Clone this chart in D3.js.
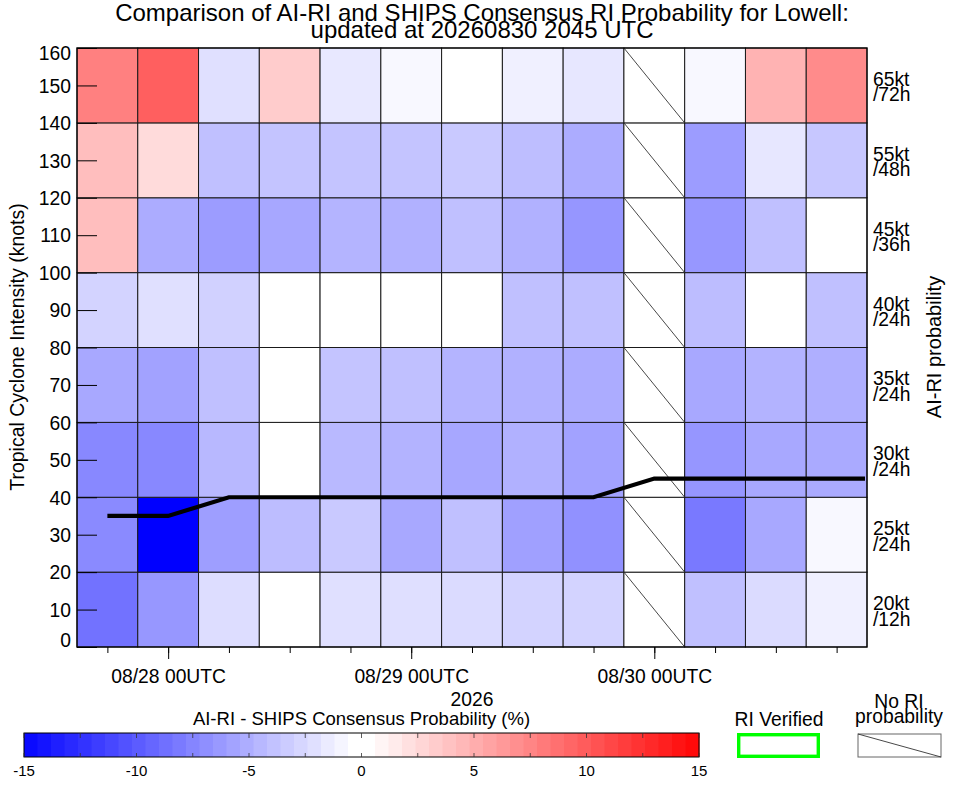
<!DOCTYPE html>
<html>
<head>
<meta charset="utf-8">
<script src="https://cdn.jsdelivr.net/npm/d3@7"></script>
<style>
  html, body { margin: 0; padding: 0; background: #fff; }
  svg { display: block; }
  text { font-family: "Liberation Sans", Arial, Helvetica, sans-serif; fill: #000; }
</style>
</head>
<body>
<svg id="chart" width="963" height="785"></svg>
<script>
// ---------------- DATA ----------------
const titleLines = ["Comparison of AI-RI and SHIPS Consensus RI Probability for Lowell:",
                    "updated at 20260830 2045 UTC"];
// 6-hourly forecast columns (UTC)
const columnTimes = ["2026-08-27T18:00Z","2026-08-28T00:00Z","2026-08-28T06:00Z","2026-08-28T12:00Z",
                     "2026-08-28T18:00Z","2026-08-29T00:00Z","2026-08-29T06:00Z","2026-08-29T12:00Z",
                     "2026-08-29T18:00Z","2026-08-30T00:00Z","2026-08-30T06:00Z","2026-08-30T12:00Z",
                     "2026-08-30T18:00Z"];
const majorTimes = ["2026-08-28T00:00Z","2026-08-29T00:00Z","2026-08-30T00:00Z"];

// RI thresholds (rows, bottom to top) and the intensity band each occupies
const riThresholds = [["20kt","/12h"],["25kt","/24h"],["30kt","/24h"],["35kt","/24h"],
                      ["40kt","/24h"],["45kt","/36h"],["55kt","/48h"],["65kt","/72h"]];
const bandLow  = [0, 20, 40, 60, 80, 100, 120, 140];
const bandHigh = [20, 40, 60, 80, 100, 120, 140, 160];

// AI-RI minus SHIPS consensus probability (%), null = no RI probability
const diff20kt12h = [-8.3, -6.1, -2.0,  0.0, -1.8, -1.9, -2.1, -2.6, -2.6, null, -3.7, -2.1, -0.9];
const diff25kt24h = [-6.9,-15.0, -5.7, -3.9, -3.2, -5.1, -3.7, -5.6, -6.5, null, -7.9, -5.1, -0.4];
const diff30kt24h = [-7.0, -7.0, -4.2,  0.0, -4.1, -4.5, -5.2, -4.6, -5.5, null, -6.2, -5.1, -5.0];
const diff35kt24h = [-5.1, -5.5, -3.7,  0.0, -3.5, -3.7, -4.4, -4.6, -4.9, null, -5.1, -4.5, -4.7];
const diff40kt24h = [-2.6, -1.8, -2.7,  0.0,  0.0,  0.0,  0.0, -3.7, -3.7, null, -3.9,  0.0, -3.7];
const diff45kt36h = [ 3.8, -4.9, -5.8, -5.2, -4.4, -4.6, -3.7, -4.6, -6.2, null, -6.1, -3.7,  0.0];
const diff55kt48h = [ 3.8,  2.1, -3.7, -3.5, -3.5, -3.5, -3.2, -3.8, -4.9, null, -5.8, -1.4, -3.3];
const diff65kt72h = [ 7.5,  9.4, -1.8,  3.0, -1.35,-0.4,  0.0, -0.9, -1.4, null, -0.4,  4.5,  6.8];
const diffRows = [diff20kt12h, diff25kt24h, diff30kt24h, diff35kt24h,
                  diff40kt24h, diff45kt36h, diff55kt48h, diff65kt72h];

// Forecast intensity (kt)
const intensityTimes = ["2026-08-27T18:00Z","2026-08-28T00:00Z","2026-08-28T06:00Z","2026-08-28T12:00Z",
                        "2026-08-28T18:00Z","2026-08-29T00:00Z","2026-08-29T06:00Z","2026-08-29T12:00Z",
                        "2026-08-29T18:00Z","2026-08-30T00:00Z","2026-08-30T06:00Z","2026-08-30T12:00Z",
                        "2026-08-30T18:00Z","2026-08-31T00:00Z"];
const intensityKt = [35, 35, 40, 40, 40, 40, 40, 40, 40, 45, 45, 45, 45, 45];

const yTicks = [0,10,20,30,40,50,60,70,80,90,100,110,120,130,140,150,160];
const cbarTicks = [-15,-12.5,-10,-7.5,-5,-2.5,0,2.5,5,7.5,10,12.5,15];
const cbarLabels = [-15,-10,-5,0,5,10,15];

// ---------------- LAYOUT ----------------
const svg = d3.select("#chart");
const P = {left: 77, right: 867, top: 48, bottom: 647};
const parse = d3.utcParse("%Y-%m-%dT%H:%MZ");
const H3 = 3 * 3600 * 1000;
const x = d3.scaleUtc()
  .domain([new Date(parse(columnTimes[0]) - H3), new Date(+parse(columnTimes[columnTimes.length-1]) + H3)])
  .range([P.left, P.right]);
const y = d3.scaleLinear().domain([0,160]).range([P.bottom, P.top]);
const color = d3.scaleLinear().domain([-15,0,15]).range(["#0000ff","#ffffff","#ff0000"]);
const FS = 19.3;

// title
svg.append("g").selectAll("text").data(titleLines).join("text")
  .attr("x", 482).attr("y", (d,i) => 21 + i*17)
  .attr("text-anchor","middle").attr("font-size", 24).text(d => d);

// cells
const cells = [];
diffRows.forEach((row, r) => row.forEach((v, c) => cells.push({r, c, v})));
const gCells = svg.append("g");
gCells.selectAll("rect").data(cells).join("rect")
  .attr("x", d => x(new Date(+parse(columnTimes[d.c]) - H3)))
  .attr("width", d => x(new Date(+parse(columnTimes[d.c]) + H3)) - x(new Date(+parse(columnTimes[d.c]) - H3)))
  .attr("y", d => y(bandHigh[d.r]))
  .attr("height", d => y(bandLow[d.r]) - y(bandHigh[d.r]))
  .attr("fill", d => d.v === null ? "#ffffff" : color(d.v))
  .attr("stroke", "#1a1a1a").attr("stroke-width", 1);
gCells.selectAll("line").data(cells.filter(d => d.v === null)).join("line")
  .attr("x1", d => x(new Date(+parse(columnTimes[d.c]) - H3)))
  .attr("x2", d => x(new Date(+parse(columnTimes[d.c]) + H3)))
  .attr("y1", d => y(bandHigh[d.r]))
  .attr("y2", d => y(bandLow[d.r]))
  .attr("stroke", "#333").attr("stroke-width", 0.9);

// intensity line
svg.append("clipPath").attr("id","clip").append("rect")
  .attr("x", P.left).attr("y", P.top).attr("width", P.right - P.left - 2).attr("height", P.bottom - P.top);
const line = d3.line().x((d,i) => x(parse(intensityTimes[i]))).y(d => y(d));
svg.append("path").datum(intensityKt)
  .attr("d", line).attr("clip-path","url(#clip)")
  .attr("fill","none").attr("stroke","#000").attr("stroke-width", 4.2).attr("stroke-linejoin","miter");

// plot frame
svg.append("rect").attr("x", P.left).attr("y", P.top)
  .attr("width", P.right - P.left).attr("height", P.bottom - P.top)
  .attr("fill","none").attr("stroke","#000").attr("stroke-width", 1.2);

// left axis (inward ticks)
const gy = svg.append("g").attr("transform", `translate(${P.left},0)`)
  .call(d3.axisLeft(y).tickValues(yTicks).tickSizeInner(-20).tickSizeOuter(0).tickPadding(6).tickFormat(d3.format("d")));
gy.select(".domain").remove();
gy.selectAll(".tick line").attr("stroke","#000");
gy.selectAll(".tick text").attr("font-size", FS).attr("font-family", null)
  .attr("dy", d => d === 160 ? "0.62em" : d === 0 ? "-0.05em" : "0.35em");

// bottom axis: minor + major ticks
const gxMinor = svg.append("g").attr("transform", `translate(0,${P.bottom})`)
  .call(d3.axisBottom(x).tickValues(columnTimes.map(parse)).tickSize(6).tickFormat(""));
gxMinor.select(".domain").remove();
const gxMajor = svg.append("g").attr("transform", `translate(0,${P.bottom})`)
  .call(d3.axisBottom(x).tickValues(majorTimes.map(parse)).tickSize(12).tickPadding(10.5)
    .tickFormat(d3.utcFormat("%m/%d %HUTC")));
gxMajor.select(".domain").remove();
gxMajor.selectAll(".tick text").attr("font-size", FS).attr("font-family", null);

// axis titles
svg.append("text").attr("x", 472).attr("y", 706).attr("text-anchor","middle").attr("font-size", FS).text("2026");
svg.append("text").attr("transform","translate(24,347) rotate(-90)").attr("text-anchor","middle")
  .attr("font-size", 19.5).text("Tropical Cyclone Intensity (knots)");
svg.append("text").attr("transform","translate(941,347) rotate(-90)").attr("text-anchor","middle")
  .attr("font-size", 20).text("AI-RI probability");

// right-side threshold labels
const gR = svg.append("g");
riThresholds.forEach((lab, r) => {
  const yc = (y(bandLow[r]) + y(bandHigh[r])) / 2;
  gR.append("text").attr("x", 873).attr("y", yc + 0.5).attr("font-size", FS).text(lab[0]);
  gR.append("text").attr("x", 873).attr("y", yc + 16).attr("font-size", FS).text(lab[1]);
});

// colorbar
const cx = d3.scaleLinear().domain([-15,15]).range([24,699]);
const CB = {top: 733, bottom: 757};
const nSteps = 50;
const steps = d3.range(nSteps).map(i => [-15 + 30*i/nSteps, -15 + 30*(i+1)/nSteps]);
const gCB = svg.append("g");
gCB.selectAll("rect").data(steps).join("rect")
  .attr("x", d => cx(d[0])).attr("width", d => cx(d[1]) - cx(d[0]) + 0.5)
  .attr("y", CB.top).attr("height", CB.bottom - CB.top)
  .attr("fill", d => color(Math.abs(d[0]) < Math.abs(d[1]) ? d[0] : d[1]));
gCB.append("rect").attr("x", cx(-15)).attr("y", CB.top).attr("width", cx(15) - cx(-15))
  .attr("height", CB.bottom - CB.top).attr("fill","none").attr("stroke","#000").attr("stroke-width",1);
gCB.selectAll("line.t").data(cbarTicks).join("line").attr("class","t")
  .attr("x1", d => cx(d)).attr("x2", d => cx(d)).attr("y1", CB.top).attr("y2", CB.top + 5)
  .attr("stroke","#333").attr("stroke-width",0.8);
gCB.selectAll("line.b").data(cbarTicks).join("line").attr("class","b")
  .attr("x1", d => cx(d)).attr("x2", d => cx(d)).attr("y1", CB.bottom - 4).attr("y2", CB.bottom)
  .attr("stroke","#333").attr("stroke-width",0.8);
gCB.selectAll("text").data(cbarLabels).join("text")
  .attr("x", d => cx(d)).attr("y", 776).attr("text-anchor","middle").attr("font-size", 15).text(d => d);
svg.append("text").attr("x", 361.5).attr("y", 725).attr("text-anchor","middle").attr("font-size", 18.5)
  .text("AI-RI - SHIPS Consensus Probability (%)");

// legends
svg.append("text").attr("x", 779).attr("y", 726).attr("text-anchor","middle").attr("font-size", FS).text("RI Verified");
svg.append("rect").attr("x", 738.7).attr("y", 734.7).attr("width", 79.6).attr("height", 21.6)
  .attr("fill","none").attr("stroke","#00ff00").attr("stroke-width", 3.4);
svg.append("text").attr("x", 899).attr("y", 708).attr("text-anchor","middle").attr("font-size", FS).text("No RI");
svg.append("text").attr("x", 899).attr("y", 723).attr("text-anchor","middle").attr("font-size", FS).text("probability");
svg.append("rect").attr("x", 858).attr("y", 734).attr("width", 83).attr("height", 23)
  .attr("fill","#fff").attr("stroke","#666").attr("stroke-width", 1);
svg.append("line").attr("x1", 858).attr("y1", 734).attr("x2", 941).attr("y2", 757)
  .attr("stroke","#333").attr("stroke-width", 0.9);
</script>
</body>
</html>
